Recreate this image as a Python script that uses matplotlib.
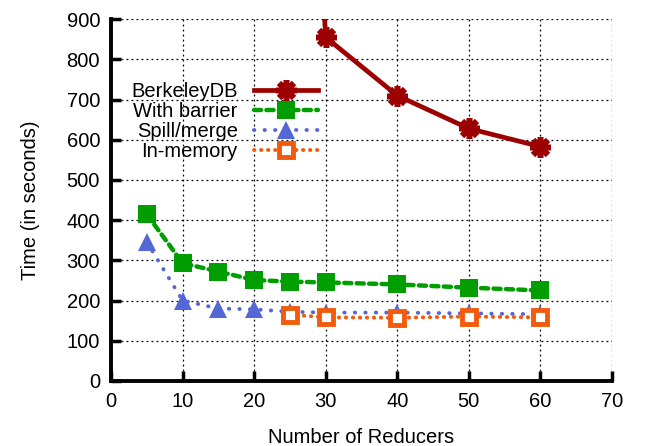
import matplotlib
matplotlib.use("Agg")
import matplotlib.pyplot as plt

# Runtime (seconds) versus number of reducers
bdb_x = [25, 30, 40, 50, 60]
bdb_y = [2400, 855, 710, 628, 583]

barrier_x = [5, 10, 15, 20, 25, 30, 40, 50, 60]
barrier_y = [414, 293, 272, 251, 247, 245, 240, 232, 225]

spill_x = [5, 10, 15, 20, 25, 30, 40, 50, 60]
spill_y = [345, 200, 180, 178, 172, 170, 170, 168, 166]

inmem_x = [25, 30, 40, 50, 60]
inmem_y = [165, 158, 157, 160, 158]

x_ticks = [0, 10, 20, 30, 40, 50, 60, 70]
y_ticks = [0, 100, 200, 300, 400, 500, 600, 700, 800, 900]

plt.rcParams['font.family'] = ['Liberation Sans', 'DejaVu Sans']
FS = 14.5

fig = plt.figure(figsize=(6.46, 4.46), dpi=100)
ax = fig.add_axes([0.172, 0.146, 0.775, 0.811])

red = "#9c0000"
green = "#009e00"
blue = "#5566d6"
orange = "#f25a0c"

ax.plot(bdb_x, bdb_y, color=red, lw=3.4, marker=(8, 2, 0), ms=15, mew=4,
        label="BerkeleyDB", zorder=3)
ax.plot(barrier_x, barrier_y, color=green, lw=3.2, linestyle=(0, (1.6, 1.2)),
        dash_capstyle='round', marker='s', ms=12.5, mew=0, label="With barrier", zorder=4)
ax.plot(spill_x, spill_y, color=blue, lw=2.8, linestyle=(0, (0.1, 2.6)),
        dash_capstyle='round', marker='^', ms=13, mew=0, label="Spill/merge", zorder=5)
ax.plot(inmem_x, inmem_y, color=orange, lw=2.8, linestyle=(0, (0.1, 1.7)),
        dash_capstyle='round', marker='s', ms=10, mew=3.5, mfc='white', mec=orange,
        label="In-memory", zorder=6)

ax.set_xlim(0, 70)
ax.set_ylim(0, 900)
ax.set_xticks(x_ticks)
ax.set_yticks(y_ticks)
ax.tick_params(direction='in', length=7, width=2.5, labelsize=FS, pad=8)
ax.grid(True, color='black', linestyle=(0, (1.5, 2.5)), linewidth=0.9)

for side in ('top', 'right'):
    ax.spines[side].set_visible(False)
for side in ('left', 'bottom'):
    ax.spines[side].set_linewidth(2.8)

ax.set_xlabel("Number of Reducers", fontsize=FS, labelpad=12)
ax.set_ylabel("Time (in seconds)", fontsize=FS, labelpad=19)

ax.legend(loc='upper left', bbox_to_anchor=(0.024, 0.848), markerfirst=False,
          frameon=False, fontsize=FS, handlelength=3.2, labelspacing=0.05,
          handletextpad=0.8, borderaxespad=0.0)

fig.savefig("out.png", dpi=100)
